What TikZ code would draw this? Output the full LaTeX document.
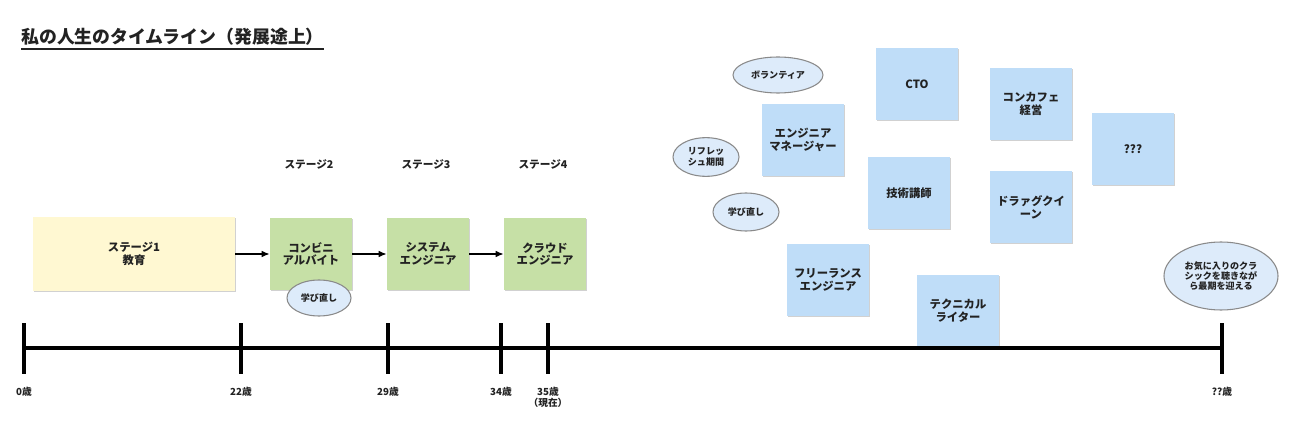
\documentclass[tikz,border=0pt]{standalone}
\usepackage{fontspec}
\setmainfont{Noto Sans CJK JP}
\usetikzlibrary{arrows.meta,shapes.geometric,shadows}

\definecolor{stagebg}{HTML}{FFF8D2}
\definecolor{jobgreen}{HTML}{C6E0A6}
\definecolor{notebg}{HTML}{BFDDF8}
\definecolor{bubblebg}{HTML}{DDEBFA}
\definecolor{bubbleline}{HTML}{8A8A8A}
\definecolor{ink}{HTML}{222222}

\tikzset{
  note/.style={fill=notebg, minimum width=61.5pt, minimum height=54pt, inner sep=1pt,
    align=center, text=ink, font=\fontsize{8.5}{9.5}\selectfont\bfseries,
    drop shadow={shadow xshift=0.8pt, shadow yshift=-0.8pt, opacity=0.18, fill=black}},
  job/.style={note, fill=jobgreen},
  bubble/.style={ellipse, draw=bubbleline, fill=bubblebg, line width=0.8pt, inner sep=0pt,
    align=center, text=ink, font=\fontsize{6.8}{7.8}\selectfont\bfseries},
  stagelabel/.style={text=ink, font=\fontsize{8}{9}\selectfont\bfseries},
  agelabel/.style={anchor=north, inner sep=0pt, align=center, text=ink,
    font=\fontsize{7.3}{8.3}\selectfont\bfseries},
  yeartick/.style={line width=2.3pt, black},
  flow/.style={line width=1.1pt, -{Latex[length=6pt,width=5pt]}},
}

\begin{document}
\begin{tikzpicture}[x=0.75pt, y=-0.75pt]
	\useasboundingbox (0,0) rectangle (1300,442);

	% title
	\node[anchor=west, inner sep=0pt, text=ink, font=\fontsize{13.4}{15}\selectfont\bfseries] (title) at (21,37) {私の人生のタイムライン（発展途上）};
	\draw[line width=1.1pt, ink] ([yshift=-2.5pt]title.south west) -- ([yshift=-2.5pt]title.south east);

	% stages up to now
	\node[note, fill=stagebg, minimum width=151.5pt, minimum height=55pt] (stage1) at (134,254) {ステージ1\\教育};
	\node[job] (job2) at (311,254) {コンビニ\\アルバイト};
	\node[job] (job3) at (428,254) {システム\\エンジニア};
	\node[job] (job4) at (545,254) {クラウド\\エンジニア};
	\node[bubble, minimum width=48pt, minimum height=27pt] (learn1) at (319,298) {学び直し};

	\node[stagelabel] (lab2) at (309,164) {ステージ2};
	\node[stagelabel] (lab3) at (426,164) {ステージ3};
	\node[stagelabel] (lab4) at (543,164) {ステージ4};

	\draw[flow] (stage1) -- (job2);
	\draw[flow] (job2) -- (job3);
	\draw[flow] (job3) -- (job4);

	% possible futures
	\node[bubble, minimum width=67.5pt, minimum height=27pt] (volunteer) at (778,75) {ボランティア};
	\node[bubble, minimum width=49.5pt, minimum height=29pt] (refresh) at (706,157) {リフレッ\\シュ期間};
	\node[bubble, minimum width=49.5pt, minimum height=28.5pt] (learn2) at (746,212) {学び直し};

	\node[note] (manager) at (803,140) {エンジニア\\マネージャー};
	\node[note] (cto) at (917,84) {CTO};
	\node[note] (teacher) at (909,193) {技術講師};
	\node[note] (cafe) at (1031,104) {コンカフェ\\経営};
	\node[note] (queen) at (1031,207) {ドラァグクイ\\ーン};
	\node[note] (unknown) at (1133,149) {???};
	\node[note] (freelance) at (828,280) {フリーランス\\エンジニア};
	\node[note] (writer) at (958,311) {テクニカル\\ライター};

	\node[bubble, minimum width=85.5pt, minimum height=51pt] (ending) at (1221,276) {お気に入りのクラ\\シックを聴きなが\\ら最期を迎える};

	% timeline
	\coordinate (start) at (24,348);
	\coordinate (finish) at (1222,348);
	\draw[yeartick] (start) -- (finish);
	\foreach \x/\age [count=\i] in {24/0歳, 241/22歳, 388/29歳, 501/34歳, 548/{35歳\\（現在）}, 1222/??歳} {
		\draw[yeartick] (\x,323) coordinate (top\i) -- (\x,374) coordinate (bot\i);
		\node[agelabel] (age\i) at (\x,387) {\age};
	}
\end{tikzpicture}
\end{document}
